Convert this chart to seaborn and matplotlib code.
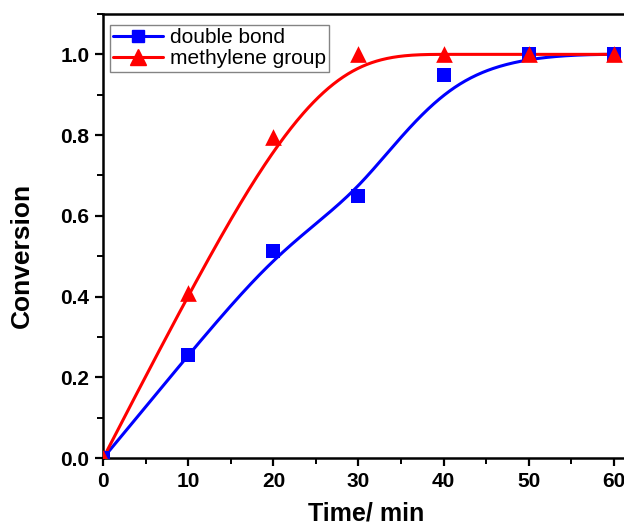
import numpy as np
import pandas as pd
import matplotlib
matplotlib.use("Agg")
import matplotlib.pyplot as plt
from matplotlib.lines import Line2D
import seaborn as sns

# ---- data ----
time_min = [0, 10, 20, 30, 40, 50, 60]
double_bond = [0.0, 0.255, 0.513, 0.648, 0.948, 1.0, 1.0]
methylene_group = [0.0, 0.408, 0.795, 1.0, 1.0, 1.0, 1.0]
series_names = ["double bond", "methylene group"]
x_ticks = [0, 10, 20, 30, 40, 50, 60]
y_ticks = [0.0, 0.2, 0.4, 0.6, 0.8, 1.0]


def bspline_curve(xs, ys, k=3, n=500):
    """Clamped cubic B-spline using the data points as control points."""
    P = np.column_stack([xs, ys]).astype(float)
    m = len(P)
    knots = np.concatenate([np.zeros(k), np.linspace(0, 1, m - k + 1), np.ones(k)])
    t = np.linspace(0, 1, n)
    t[-1] -= 1e-12
    B = np.zeros((n, len(knots) - 1))
    for i in range(len(knots) - 1):
        B[:, i] = (t >= knots[i]) & (t < knots[i + 1])
    for d in range(1, k + 1):
        Bn = np.zeros((n, len(knots) - 1 - d))
        for i in range(len(knots) - 1 - d):
            a = knots[i + d] - knots[i]
            b = knots[i + d + 1] - knots[i + 1]
            term = 0
            if a > 0:
                term = term + (t - knots[i]) / a * B[:, i]
            if b > 0:
                term = term + (knots[i + d + 1] - t) / b * B[:, i + 1]
            Bn[:, i] = term
        B = Bn
    C = B @ P
    return C[:, 0], C[:, 1]


sns.set_style("ticks")
plt.rcParams["font.family"] = ["Liberation Sans", "DejaVu Sans"]
for key in ["text.color", "axes.labelcolor", "xtick.color", "ytick.color", "axes.edgecolor"]:
    plt.rcParams[key] = "black"

fig = plt.figure(figsize=(6.24, 5.25), dpi=100)
ax = fig.add_axes([103.3 / 624, 67 / 525, 0.886, 444 / 525])

colors = {"double bond": "#0000FF", "methylene group": "#FF0000"}
markers = {"double bond": "s", "methylene group": "^"}
msizes = {"double bond": 9.5, "methylene group": 12}

for name, ys in zip(series_names, [double_bond, methylene_group]):
    cx, cy = bspline_curve(time_min, ys)
    curve = pd.DataFrame({"x": cx, "y": cy})
    sns.lineplot(data=curve, x="x", y="y", sort=False, color=colors[name],
                 linewidth=2.2, ax=ax, zorder=2)
    pts = pd.DataFrame({"x": time_min, "y": ys})
    sns.scatterplot(data=pts, x="x", y="y", marker=markers[name],
                    color=colors[name], s=msizes[name] ** 2, linewidth=0,
                    ax=ax, zorder=3)

ax.set_xlim(0, 65)
ax.set_ylim(0, 1.1)
ax.set_xticks(x_ticks)
ax.set_yticks(y_ticks)
ax.set_xticklabels([str(v) for v in x_ticks])
ax.set_yticklabels([f"{v:.1f}" for v in y_ticks])
ax.set_xticks([5, 15, 25, 35, 45, 55, 65], minor=True)
ax.set_yticks([0.1, 0.3, 0.5, 0.7, 0.9, 1.1], minor=True)

for s in ax.spines.values():
    s.set_linewidth(1.8)
    s.set_color("black")
ax.tick_params(axis="both", which="major", direction="out", length=6, width=1.6,
               labelsize=15, pad=4)
ax.tick_params(axis="both", which="minor", direction="out", length=4, width=1.4)
for lab in ax.get_xticklabels() + ax.get_yticklabels():
    lab.set_fontweight("bold")

ax.set_xlabel("Time/ min", fontsize=18, fontweight="bold")
ax.set_ylabel("Conversion", fontsize=19, fontweight="bold")
ax.xaxis.set_label_coords(0.475, -0.098)
ax.yaxis.set_label_coords(-0.125, 0.457)

handles = [Line2D([], [], color=colors[n], marker=markers[n], markersize=msizes[n] * 0.95,
                  linewidth=2.2, label=n) for n in series_names]
leg = ax.legend(handles=handles, loc="upper left", bbox_to_anchor=(0.005, 0.985),
                fontsize=15, frameon=True, fancybox=False, handlelength=2.4,
                borderpad=0.15, labelspacing=0.12, handletextpad=0.3,
                borderaxespad=0.2)
leg.get_frame().set_edgecolor("#666666")
leg.get_frame().set_linewidth(1.0)

fig.savefig("out.png", dpi=100)
